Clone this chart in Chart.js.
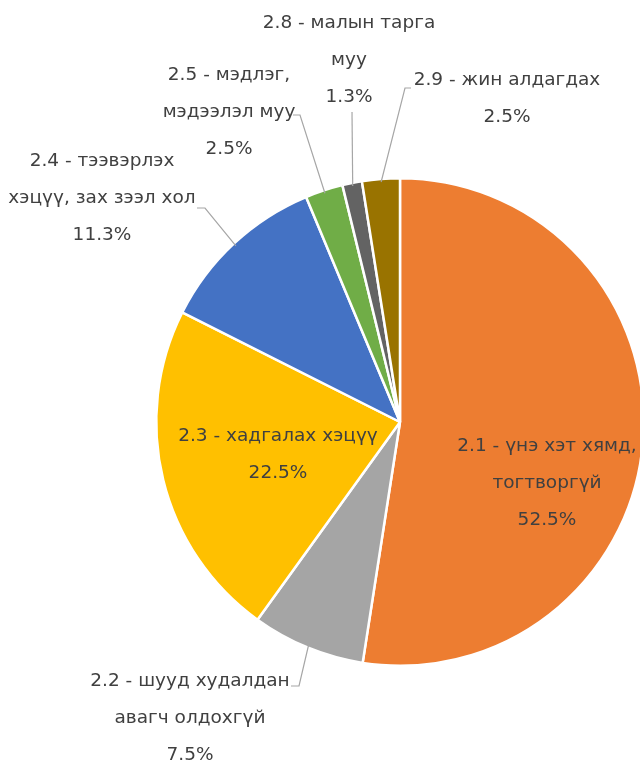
<!DOCTYPE html>
<html>
<head>
<meta charset="utf-8">
<script src="https://cdn.jsdelivr.net/npm/chart.js@4.4.1/dist/chart.umd.min.js"></script>
<style>
  html, body { margin: 0; padding: 0; background: #fff; overflow: hidden; }
  #wrap { position: relative; width: 660px; height: 764px; }
</style>
</head>
<body>
<div id="wrap"><canvas id="pieChart" width="660" height="764"></canvas></div>
<script>
// Ангиллууд (мөр бүрээр нь)
const categories = [
    ['2.1 - үнэ хэт хямд,', 'тогтворгүй'],
    ['2.2 - шууд худалдан', 'авагч олдохгүй'],
    ['2.3 - хадгалах хэцүү'],
    ['2.4 - тээвэрлэх', 'хэцүү, зах зээл хол'],
    ['2.5 - мэдлэг,', 'мэдээлэл муу'],
    ['2.8 - малын тарга', 'муу'],
    ['2.9 - жин алдагдах']
];
// Хувь (%)
const shares = [52.5, 7.5, 22.5, 11.3, 2.5, 1.3, 2.5];
const sliceColors = ['#ED7D31', '#A5A5A5', '#FFC000', '#4472C4', '#70AD47', '#636363', '#997300'];

// Шошгоны байрлал (төвөөс хэдэн px) ба заагч шугамын эхлэл
const labelSpots = [
    { dx: 147, dy: 61, lead: null },
    { dx: -210, dy: 296, lead: [[-109, 264], [-101, 264]] },
    { dx: -122, dy: 33, lead: null },
    { dx: -298, dy: -224, lead: [[-203, -214], [-195, -214]] },
    { dx: -171, dy: -310, lead: [[-107, -307], [-100, -307]] },
    { dx: -51, dy: -362, lead: [[-48, -310]] },
    { dx: 107, dy: -323, lead: [[11, -334], [5, -334]] }
];

const lineHeight = 37;
const labelFont = '18.5px "DejaVu Sans", Verdana, sans-serif';

// Шошго болон заагч шугам зурах plugin
const pieLabels = {
    id: 'pieLabels',
    afterDatasetsDraw(chart) {
        const ctx = chart.ctx;
        const arcs = chart.getDatasetMeta(0).data;
        ctx.save();
        arcs.forEach((arc, i) => {
            const p = arc.getProps(['x', 'y', 'startAngle', 'endAngle', 'outerRadius'], true);
            const spot = labelSpots[i];
            const lines = categories[i].concat([shares[i].toFixed(1) + '%']);

            // заагч шугам
            if (spot.lead) {
                const mid = (p.startAngle + p.endAngle) / 2;
                const ex = p.x + Math.cos(mid) * (p.outerRadius - 3);
                const ey = p.y + Math.sin(mid) * (p.outerRadius - 3);
                ctx.beginPath();
                ctx.strokeStyle = '#A6A6A6';
                ctx.lineWidth = 1.2;
                spot.lead.forEach((pt, k) => {
                    if (k === 0) ctx.moveTo(p.x + pt[0], p.y + pt[1]);
                    else ctx.lineTo(p.x + pt[0], p.y + pt[1]);
                });
                ctx.lineTo(ex, ey);
                ctx.stroke();
            }

            // текст
            ctx.font = labelFont;
            ctx.fillStyle = '#404040';
            ctx.textAlign = 'center';
            ctx.textBaseline = 'middle';
            const top = p.y + spot.dy - (lines.length - 1) * lineHeight / 2;
            lines.forEach((t, k) => {
                ctx.fillText(t, p.x + spot.dx, top + k * lineHeight);
            });
        });
        ctx.restore();
    }
};

const ctx = document.getElementById('pieChart').getContext('2d');
new Chart(ctx, {
    type: 'pie',
    data: {
        labels: categories.map(c => c.join(' ')),
        datasets: [{
            data: shares,
            backgroundColor: sliceColors,
            borderColor: '#ffffff',
            borderWidth: 2.5
        }]
    },
    options: {
        responsive: false,
        animation: false,
        layout: {
            padding: { left: 155, right: 15, top: 177, bottom: 97 }
        },
        plugins: {
            legend: { display: false },
            tooltip: { enabled: false }
        }
    },
    plugins: [pieLabels]
});
</script>
</body>
</html>
